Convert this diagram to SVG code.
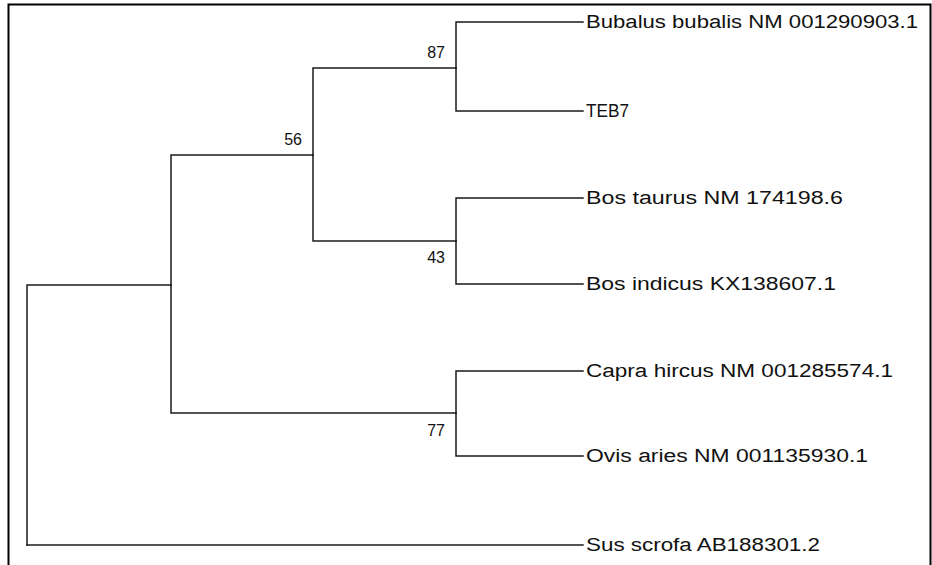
<svg xmlns="http://www.w3.org/2000/svg" width="932" height="565" viewBox="0 0 932 565">
<style>
.br{fill:none;stroke:#1a1a1a;stroke-width:1.5;stroke-linecap:square}
.lf{font-family:"Liberation Sans",Arial,sans-serif;font-size:18px;fill:#111}
.bs{font-family:"Liberation Sans",Arial,sans-serif;font-size:16px;fill:#111;text-anchor:end}
</style>
<rect x="0" y="0" width="932" height="565" fill="#fff"/>
<rect x="8.5" y="4.5" width="922" height="570" fill="none" stroke="#000" stroke-width="2"/>
<g id="connectors">
<path class="br" d="M27,545 V285 H171"/>
<path class="br" d="M171,285 V155 H313"/>
<path class="br" d="M171,285 V413 H456"/>
<path class="br" d="M313,155 V68 H456"/>
<path class="br" d="M313,155 V241 H456"/>
<path class="br" d="M456,68 V22 H583"/>
<path class="br" d="M456,68 V111 H583"/>
<path class="br" d="M456,241 V198 H583"/>
<path class="br" d="M456,241 V284 H583"/>
<path class="br" d="M456,413 V371 H583"/>
<path class="br" d="M456,413 V456 H583"/>
<path class="br" d="M27,545 H583"/>
</g>
<g id="bootstrap">
<text class="bs" x="445" y="58">87</text>
<text class="bs" x="302" y="145">56</text>
<text class="bs" x="445" y="263">43</text>
<text class="bs" x="445" y="436">77</text>
</g>
<g id="leaf-bubalus"><text class="lf" x="586" y="28" textLength="332" lengthAdjust="spacingAndGlyphs">Bubalus bubalis NM 001290903.1</text></g>
<g id="leaf-teb7"><text class="lf" x="586" y="117" textLength="43" lengthAdjust="spacingAndGlyphs">TEB7</text></g>
<g id="leaf-bostaurus"><text class="lf" x="586" y="204" textLength="257" lengthAdjust="spacingAndGlyphs">Bos taurus NM 174198.6</text></g>
<g id="leaf-bosindicus"><text class="lf" x="586" y="290" textLength="250" lengthAdjust="spacingAndGlyphs">Bos indicus KX138607.1</text></g>
<g id="leaf-capra"><text class="lf" x="586" y="377" textLength="307" lengthAdjust="spacingAndGlyphs">Capra hircus NM 001285574.1</text></g>
<g id="leaf-ovis"><text class="lf" x="586" y="462" textLength="282" lengthAdjust="spacingAndGlyphs">Ovis aries NM 001135930.1</text></g>
<g id="leaf-sus"><text class="lf" x="586" y="551" textLength="234" lengthAdjust="spacingAndGlyphs">Sus scrofa AB188301.2</text></g>
</svg>
